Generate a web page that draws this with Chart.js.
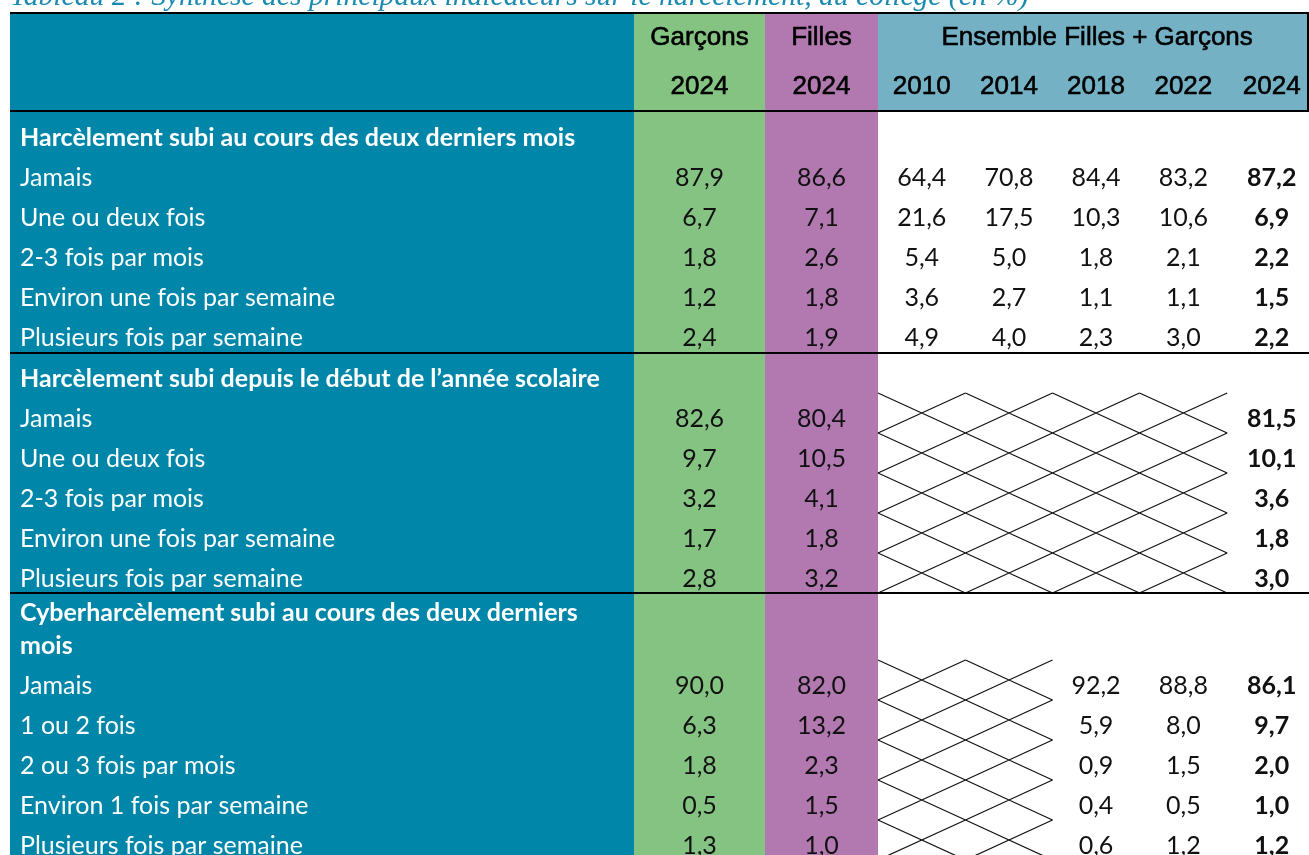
<!DOCTYPE html>
<html lang="fr">
<head>
<meta charset="utf-8">
<title>Tableau 2 - harcèlement au collège</title>
<script src="https://cdn.jsdelivr.net/npm/chart.js@4.4.1/dist/chart.umd.min.js"></script>
<style>
  html, body { margin: 0; padding: 0; background: #fff; }
  #wrap { position: relative; width: 1309px; height: 855px; }
</style>
</head>
<body>
<div id="wrap"><canvas id="tableChart"></canvas></div>
<script>
// --- Data ---
const title = 'Tableau 2 : Synthèse des principaux indicateurs sur le harcèlement, au collège (en %)';
const groupHeaders = ['Garçons', 'Filles', 'Ensemble Filles + Garçons'];
const yearHeaders = ['2024', '2024', '2010', '2014', '2018', '2022', '2024'];
const sectionTitles = [
  'Harcèlement subi au cours des deux derniers mois',
  'Harcèlement subi depuis le début de l’année scolaire',
  'Cyberharcèlement subi au cours des deux derniers\nmois'
];
const rowLabels = [
  ['Jamais', 'Une ou deux fois', '2-3 fois par mois', 'Environ une fois par semaine', 'Plusieurs fois par semaine'],
  ['Jamais', 'Une ou deux fois', '2-3 fois par mois', 'Environ une fois par semaine', 'Plusieurs fois par semaine'],
  ['Jamais', '1 ou 2 fois', '2 ou 3 fois par mois', 'Environ 1 fois par semaine', 'Plusieurs fois par semaine']
];
// one list per section, null = not measured (hatched)
const garcons2024 = [[87.9, 6.7, 1.8, 1.2, 2.4], [82.6, 9.7, 3.2, 1.7, 2.8], [90.0, 6.3, 1.8, 0.5, 1.3]];
const filles2024  = [[86.6, 7.1, 2.6, 1.8, 1.9], [80.4, 10.5, 4.1, 1.8, 3.2], [82.0, 13.2, 2.3, 1.5, 1.0]];
const ens2010 = [[64.4, 21.6, 5.4, 3.6, 4.9], null, null];
const ens2014 = [[70.8, 17.5, 5.0, 2.7, 4.0], null, null];
const ens2018 = [[84.4, 10.3, 1.8, 1.1, 2.3], null, [92.2, 5.9, 0.9, 0.4, 0.6]];
const ens2022 = [[83.2, 10.6, 2.1, 1.1, 3.0], null, [88.8, 8.0, 1.5, 0.5, 1.2]];
const ens2024 = [[87.2, 6.9, 2.2, 1.5, 2.2], [81.5, 10.1, 3.6, 1.8, 3.0], [86.1, 9.7, 2.0, 1.0, 1.2]];
const valueColumns = [garcons2024, filles2024, ens2010, ens2014, ens2018, ens2022, ens2024];

// --- Layout (units of the 1309x855 sheet) ---
const W = 1309, H = 855;
const tableLeft = 10;
const colWidths = [624, 131, 113, 87.5, 87, 87, 87.7, 89];
const headTop = 13, head1H = 47, head2H = 51;
const sectionHeadH = [46, 45, 72];
const sectionRowH = [[40, 40, 40, 40, 36], [40, 40, 40, 40, 35], [40, 40, 40, 40, 40]];

const teal = '#0086a8', green = '#85c383', purple = '#b278b0', lightTeal = '#75b1c4';
const bodyFills = [teal, green, purple];
const headFills = [teal, green, purple];
const bodyFont = 'Lato';
const bodySize = 25;
const headFont = '"Liberation Sans", Arial, sans-serif';

const xEdges = [tableLeft];
colWidths.forEach(w => xEdges.push(xEdges[xEdges.length - 1] + w));

// row boxes
const sections = [];
let yCur = headTop + head1H + head2H;
sectionTitles.forEach((t, s) => {
  const sec = { top: yCur, headBottom: yCur + sectionHeadH[s], rows: [] };
  yCur = sec.headBottom;
  sectionRowH[s].forEach(h => { sec.rows.push({ top: yCur, bottom: yCur + h }); yCur += h; });
  sec.bottom = yCur;
  sections.push(sec);
});

const fmt = v => v.toFixed(1).replace('.', ',');

// one scatter dataset per value column, points sit in the middle of each cell
const datasets = valueColumns.map((col, c) => {
  const pts = [];
  col.forEach((vals, s) => {
    if (!vals) return;
    vals.forEach((v, r) => {
      pts.push({
        x: (xEdges[c + 1] + xEdges[c + 2]) / 2,
        y: sections[s].rows[r].top + 21,
        v: v
      });
    });
  });
  return { label: yearHeaders[c], data: pts, pointRadius: 0, bold: c === valueColumns.length - 1 };
});

const tablePlugin = {
  id: 'tablePlugin',
  beforeDatasetsDraw(chart) {
    const ctx = chart.ctx, xs = chart.scales.x, ys = chart.scales.y;
    const px = v => xs.getPixelForValue(v), py = v => ys.getPixelForValue(v);
    const headBottom = headTop + head1H + head2H;
    ctx.save();

    // title, mostly cut off at the top
    ctx.fillStyle = '#1a8ab0';
    ctx.textBaseline = 'alphabetic';
    ctx.textAlign = 'left';
    ctx.font = 'italic 26px "Liberation Serif", serif';
    const tw = ctx.measureText(title).width;
    ctx.font = 'italic ' + (26 * 1020 / tw).toFixed(1) + 'px "Liberation Serif", serif';
    ctx.fillText(title, px(tableLeft), py(5));

    // column fills (label, garçons, filles), then the "ensemble" block
    for (let c = 0; c < 3; c++) {
      const x0 = Math.round(px(xEdges[c])), x1 = Math.round(px(xEdges[c + 1]));
      ctx.fillStyle = headFills[c];
      ctx.fillRect(x0, py(headTop), x1 - x0, py(headBottom) - py(headTop));
      ctx.fillStyle = bodyFills[c];
      ctx.fillRect(x0, py(headBottom), x1 - x0, py(H) - py(headBottom));
    }
    ctx.fillStyle = lightTeal;
    const xe = Math.round(px(xEdges[3]));
    ctx.fillRect(xe, py(headTop), px(W) - xe, py(headBottom) - py(headTop));

    // hatched cells for missing years
    ctx.strokeStyle = '#111';
    ctx.lineWidth = 1.2;
    valueColumns.forEach((col, c) => {
      col.forEach((vals, s) => {
        if (vals) return;
        sections[s].rows.forEach(row => {
          const x0 = px(xEdges[c + 1]), x1 = px(xEdges[c + 2]);
          const y0 = py(row.top - 5), y1 = py(row.top + 35);
          ctx.beginPath();
          ctx.moveTo(x0, y0); ctx.lineTo(x1, y1);
          ctx.moveTo(x0, y1); ctx.lineTo(x1, y0);
          ctx.stroke();
        });
      });
    });

    // horizontal rules
    ctx.strokeStyle = '#000';
    ctx.lineWidth = 2;
    const rules = [headTop, headBottom, sections[0].bottom, sections[1].bottom];
    rules.forEach(y => {
      ctx.beginPath();
      ctx.moveTo(px(tableLeft), py(y));
      ctx.lineTo(px(W), py(y));
      ctx.stroke();
    });
    ctx.beginPath();
    ctx.moveTo(px(W - 1), py(headTop));
    ctx.lineTo(px(W - 1), py(headBottom));
    ctx.stroke();

    // header texts (slightly heavier, like the original)
    ctx.fillStyle = '#000';
    ctx.strokeStyle = '#000';
    ctx.lineWidth = 0.6;
    ctx.textAlign = 'center';
    ctx.textBaseline = 'middle';
    ctx.font = '26px ' + headFont;
    const mid1 = py(headTop + head1H / 2 + 1), mid2 = py(headTop + head1H + head2H / 2 + 1);
    const headText = (t, x, y) => { ctx.fillText(t, x, y); ctx.strokeText(t, x, y); };
    headText(groupHeaders[0], px((xEdges[1] + xEdges[2]) / 2), mid1);
    headText(groupHeaders[1], px((xEdges[2] + xEdges[3]) / 2), mid1);
    headText(groupHeaders[2], px((xEdges[3] + xEdges[8]) / 2), mid1);
    yearHeaders.forEach((y, c) => {
      headText(y, px((xEdges[c + 1] + xEdges[c + 2]) / 2), mid2);
    });

    // row labels
    ctx.fillStyle = '#fff';
    ctx.textAlign = 'left';
    sections.forEach((sec, s) => {
      ctx.font = 'bold ' + bodySize + 'px ' + bodyFont;
      const lines = sectionTitles[s].split('\n');
      lines.forEach((ln, i) => {
        const y = sec.headBottom - 19 - (lines.length - 1 - i) * 33;
        ctx.fillText(ln, px(tableLeft + 10), py(y));
      });
      ctx.font = bodySize + 'px ' + bodyFont;
      rowLabels[s].forEach((lab, r) => {
        ctx.fillText(lab, px(tableLeft + 10), py(sec.rows[r].top + 21));
      });
    });
    ctx.restore();
  },
  afterDatasetsDraw(chart) {
    const ctx = chart.ctx;
    ctx.save();
    ctx.fillStyle = '#111';
    ctx.textAlign = 'center';
    ctx.textBaseline = 'middle';
    chart.data.datasets.forEach((ds, i) => {
      ctx.font = (ds.bold ? 'bold ' : '') + bodySize + 'px ' + bodyFont;
      chart.getDatasetMeta(i).data.forEach((pt, j) => {
        ctx.fillText(fmt(ds.data[j].v), pt.x, pt.y);
      });
    });
    ctx.restore();
  }
};

new Chart(document.getElementById('tableChart'), {
  type: 'scatter',
  data: { datasets: datasets },
  options: {
    responsive: true,
    maintainAspectRatio: false,
    animation: false,
    layout: { padding: 0 },
    plugins: { legend: { display: false }, tooltip: { enabled: false } },
    scales: {
      x: { type: 'linear', min: 0, max: W, display: false },
      y: { type: 'linear', min: 0, max: H, reverse: true, display: false }
    }
  },
  plugins: [tablePlugin]
});
</script>
</body>
</html>
